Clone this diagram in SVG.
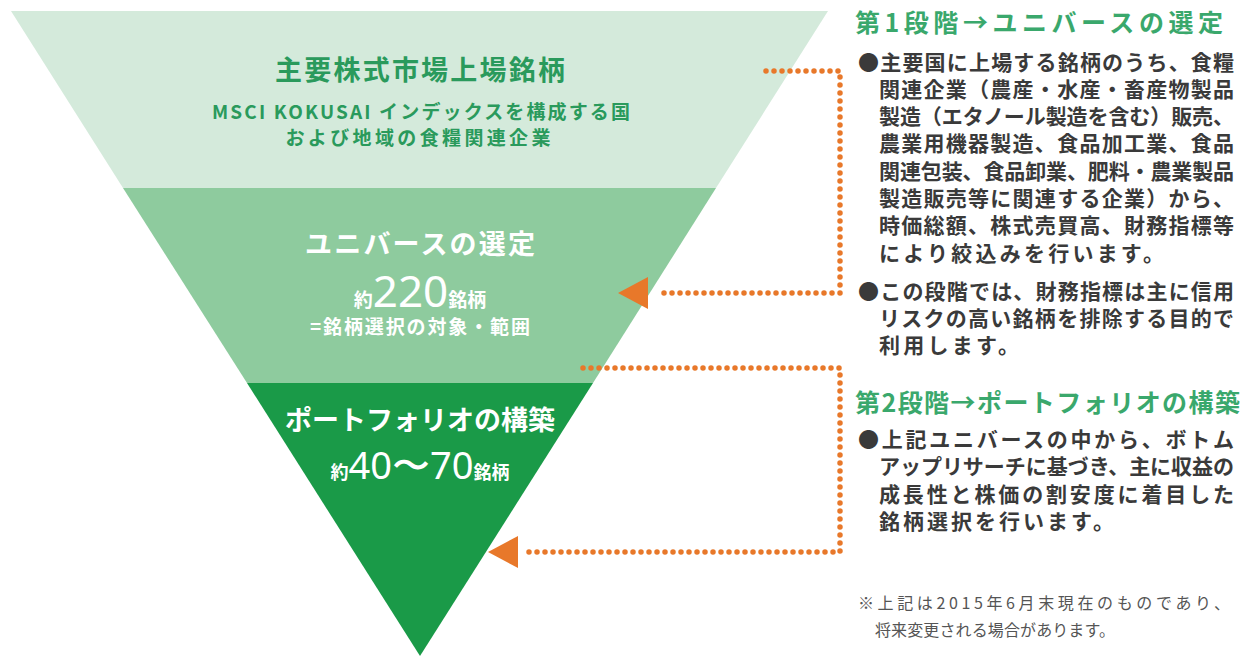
<svg xmlns="http://www.w3.org/2000/svg" width="1250" height="657" viewBox="0 0 1250 657">
<style>
.jp{font-family:"Noto Sans CJK JP","Noto Sans",sans-serif}
.t1{font-size:27px;font-weight:700;fill:#2a9a5c;text-anchor:middle}
.t2{font-size:19px;font-weight:700;fill:#2a9a5c;text-anchor:middle}
.w1{font-size:27px;font-weight:700;fill:#ffffff;text-anchor:middle}
.w2{font-size:19px;font-weight:700;fill:#ffffff;text-anchor:middle}
.num{font-family:"Noto Sans","Liberation Sans",sans-serif;font-weight:400}
.h{font-size:25px;font-weight:700;fill:#3aa86c}
.b{font-size:21px;font-weight:700;fill:#3a3a3a}
.n{font-size:16px;font-weight:400;fill:#555555}
.dot{fill:none;stroke:#e8782a;stroke-width:5.5;stroke-linecap:round;stroke-dasharray:0 8}
.ah{fill:#e8782a}
</style>
<rect width="1250" height="657" fill="#ffffff"/>
<g id="band-top">
<polygon points="11,11 828,11 716,188 123,188" fill="#d4eadb"/>
<text class="jp t1" x="420" y="80" textLength="290">主要株式市場上場銘柄</text>
<text class="jp t2" x="421" y="119" textLength="418">MSCI KOKUSAI インデックスを構成する国</text>
<text class="jp t2" x="418" y="145" textLength="265">および地域の食糧関連企業</text>
</g>
<g id="band-middle">
<polygon points="123,188 716,188 593,383 247,383" fill="#8ecb9e"/>
<text class="jp w1" x="420" y="254" textLength="230">ユニバースの選定</text>
<text class="jp w2" x="420" y="307"><tspan font-size="19">約</tspan><tspan class="num" font-size="44">220</tspan><tspan font-size="19">銘柄</tspan></text>
<text class="jp w2" x="420" y="334" textLength="220">=銘柄選択の対象・範囲</text>
</g>
<g id="band-bottom">
<polygon points="247,383 593,383 420,656" fill="#1a9a48"/>
<text class="jp w1" x="420" y="430" textLength="270">ポートフォリオの構築</text>
<text class="jp w2" x="420" y="479"><tspan font-size="18">約</tspan><tspan class="num" font-size="38">40〜70</tspan><tspan font-size="18">銘柄</tspan></text>
</g>
<g id="connectors">
<path class="dot" d="M766,71 H840 V293 H656"/>
<polygon class="ah" points="618,293 648,277 648,309"/>
<path class="dot" d="M583,368 H840 V552 H525"/>
<polygon class="ah" points="488,552 518,536 518,568"/>
</g>
<g id="stage1">
<text class="jp h" x="855" y="32" textLength="368">第1段階→ユニバースの選定</text>
<text class="jp b" x="858" y="70" textLength="376">●主要国に上場する銘柄のうち、食糧</text>
<text class="jp b" x="879" y="97" textLength="355">関連企業（農産・水産・畜産物製品</text>
<text class="jp b" x="879" y="124" textLength="355">製造（エタノール製造を含む）販売、</text>
<text class="jp b" x="879" y="151" textLength="355">農業用機器製造、食品加工業、食品</text>
<text class="jp b" x="879" y="179" textLength="355">関連包装、食品卸業、肥料・農業製品</text>
<text class="jp b" x="879" y="206" textLength="355">製造販売等に関連する企業）から、</text>
<text class="jp b" x="879" y="233" textLength="355">時価総額、株式売買高、財務指標等</text>
<text class="jp b" x="879" y="261" textLength="285">により絞込みを行います。</text>
<text class="jp b" x="858" y="299" textLength="376">●この段階では、財務指標は主に信用</text>
<text class="jp b" x="879" y="326" textLength="355">リスクの高い銘柄を排除する目的で</text>
<text class="jp b" x="879" y="353" textLength="140">利用します。</text>
</g>
<g id="stage2">
<text class="jp h" x="855" y="412" textLength="385">第2段階→ポートフォリオの構築</text>
<text class="jp b" x="858" y="447" textLength="376">●上記ユニバースの中から、ボトム</text>
<text class="jp b" x="879" y="474" textLength="355">アップリサーチに基づき、主に収益の</text>
<text class="jp b" x="879" y="502" textLength="355">成長性と株価の割安度に着目した</text>
<text class="jp b" x="879" y="529" textLength="235">銘柄選択を行います。</text>
</g>
<g id="note">
<text class="jp n" x="858" y="609" textLength="372">※上記は2015年6月末現在のものであり、</text>
<text class="jp n" x="875" y="636" textLength="240">将来変更される場合があります。</text>
</g>
</svg>
